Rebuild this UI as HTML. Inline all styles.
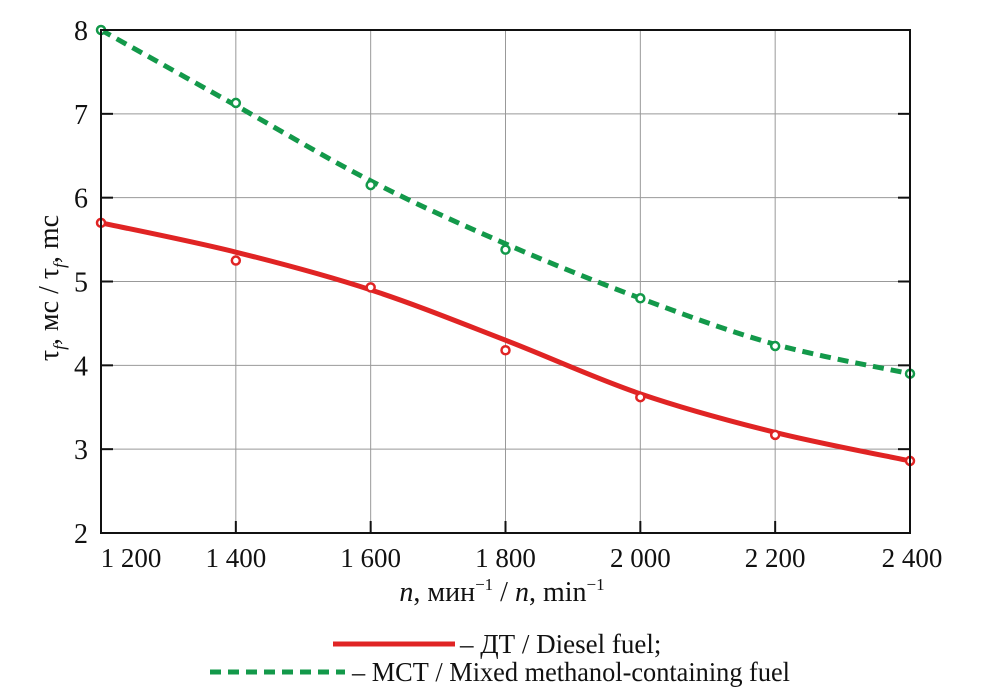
<!DOCTYPE html>
<html><head><meta charset="utf-8"><style>
body{margin:0;background:#fff;width:985px;height:694px;overflow:hidden}
svg text{font-family:"Liberation Serif",serif;fill:#111}
</style></head><body>
<svg id="chart" width="985" height="694" viewBox="0 0 985 694" xmlns="http://www.w3.org/2000/svg">
<g id="grid"></g>
<g id="series"></g>
<rect x="101" y="30" width="809" height="503" fill="none" stroke="#111" stroke-width="2"/>
<g id="ticks"></g>
<text x="502" y="601" font-size="28" text-anchor="middle"><tspan font-style="italic">n</tspan>, мин<tspan font-size="17" dy="-11">−1</tspan><tspan dy="11"> / </tspan><tspan font-style="italic">n</tspan>, min<tspan font-size="17" dy="-11">−1</tspan></text>
<text transform="translate(58,288) rotate(-90)" font-size="28" text-anchor="middle">τ<tspan font-size="17" dy="7" font-style="italic">f</tspan><tspan dy="-7">, мс / τ</tspan><tspan font-size="17" dy="7" font-style="italic">f</tspan><tspan dy="-7">, mc</tspan></text>
<g>
<line x1="333" y1="644" x2="455" y2="644" stroke="#e02424" stroke-width="5"/>
<text x="460" y="653" font-size="27">– ДТ / Diesel fuel;</text>
<line x1="210" y1="672" x2="345" y2="672" stroke="#13994a" stroke-width="5" stroke-dasharray="11,7"/>
<text x="352" y="681" font-size="27" textLength="438" lengthAdjust="spacingAndGlyphs">– МСТ / Mixed methanol-containing fuel</text>
</g>
</svg>
<script>
const categories=[1200,1400,1600,1800,2000,2200,2400];
const xTickLabels=["1 200","1 400","1 600","1 800","2 000","2 200","2 400"];
const yTicks=[2,3,4,5,6,7,8];
const dieselPoints=[5.70,5.25,4.93,4.18,3.62,3.17,2.86];
const dieselFit=[5.70,5.35,4.90,4.30,3.66,3.20,2.86];
const mctPoints=[8.00,7.13,6.15,5.38,4.80,4.23,3.90];
const mctFit=[8.00,7.10,6.20,5.45,4.80,4.25,3.90];
const NS="http://www.w3.org/2000/svg";
const X=v=>101+(v-1200)/1200*809;
const Y=v=>533-(v-2)/6*503;
function mk(t,a,p){const e=document.createElementNS(NS,t);for(const k in a)e.setAttribute(k,a[k]);p.appendChild(e);return e;}
const grid=document.getElementById('grid'),ticks=document.getElementById('ticks'),ser=document.getElementById('series');
categories.forEach((c,i)=>{
 const l=mk('line',{x1:X(c),x2:X(c),y1:30,y2:533,stroke:'#999','stroke-width':1},grid);
 
 
 const tk=mk('line',{x1:X(c),x2:X(c),y1:521,y2:533,stroke:'#111','stroke-width':2},ticks);
 
 
 const t=mk('text',{x:X(c)+(i===0?30:i===6?2:0),y:567,'font-size':27,'text-anchor':'middle'},ticks);
 t.textContent=xTickLabels[i];
 
 
});
yTicks.forEach(v=>{
 const l=mk('line',{x1:101,x2:910,y1:Y(v),y2:Y(v),stroke:'#999','stroke-width':1},grid);
 
 
 const tk=mk('line',{x1:101,x2:113,y1:Y(v),y2:Y(v),stroke:'#111','stroke-width':2},ticks);
 
 
 const tk2=mk('line',{x1:898,x2:910,y1:Y(v),y2:Y(v),stroke:'#111','stroke-width':2},ticks);
 
 
 const t=mk('text',{x:88,y:Y(v)+10,'font-size':28,'text-anchor':'end'},ticks);
 t.textContent=v;
 
 
});
function smooth(vals){
 const p=vals.map((v,i)=>[X(categories[i]),Y(v)]);
 let d='M'+p[0][0]+','+p[0][1];
 for(let i=0;i<p.length-1;i++){
  const p0=p[i-1]||p[i],p1=p[i],p2=p[i+1],p3=p[i+2]||p2;
  d+=' C'+(p1[0]+(p2[0]-p0[0])/6)+','+(p1[1]+(p2[1]-p0[1])/6)+' '+(p2[0]-(p3[0]-p1[0])/6)+','+(p2[1]-(p3[1]-p1[1])/6)+' '+p2[0]+','+p2[1];
 }
 return d;
}
const dl=mk('path',{d:smooth(dieselFit),fill:'none',stroke:'#e02424','stroke-width':5},ser);


const ml=mk('path',{d:smooth(mctFit),fill:'none',stroke:'#13994a','stroke-width':5,'stroke-dasharray':'11,7'},ser);


dieselPoints.forEach((v,i)=>{
 const c=mk('circle',{cx:X(categories[i]),cy:Y(v),r:4,fill:'#fff',stroke:'#e02424','stroke-width':2.5},ser);
 
 
});
mctPoints.forEach((v,i)=>{
 const c=mk('circle',{cx:X(categories[i]),cy:Y(v),r:4,fill:'#fff',stroke:'#13994a','stroke-width':2.5},ser);
 
 
});
</script>
</body></html>
